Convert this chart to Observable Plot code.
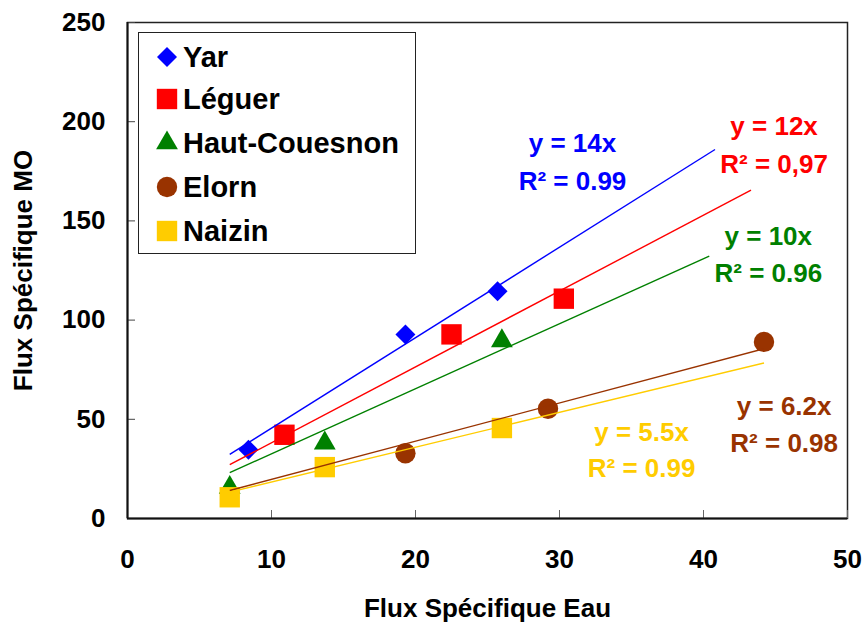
<!DOCTYPE html>
<html>
<head>
<meta charset="utf-8">
<script src="https://cdn.jsdelivr.net/npm/d3@7"></script>
<script src="https://cdn.jsdelivr.net/npm/@observablehq/plot@0.6"></script>
<style>
  body { margin: 0; background: #fff; }
  #wrap { position: relative; width: 864px; height: 626px; font-family: "Liberation Sans", Arial, sans-serif; }
  #wrap svg text { font-weight: bold; }
  #legend { position: absolute; left: 138px; top: 32px; width: 276px; height: 220px; border: 1.5px solid #222; background: #fff; }
  .row { position: absolute; left: 0; height: 40px; display: flex; align-items: center; }
  .row svg { width: 26px; height: 26px; margin-left: 15px; }
  .row span { position: absolute; left: 44px; font-size: 29px; font-weight: bold; color: #000; white-space: nowrap; line-height: 40px; }
</style>
</head>
<body>
<div id="wrap"></div>
<script>
// ---- data ----
const seriesNames = ["Yar", "Léguer", "Haut-Couesnon", "Elorn", "Naizin"];
const seriesColors = ["#0000FF", "#FF0000", "#008000", "#993300", "#FFCC00"];

const yarX = [8.4, 19.3, 25.7];
const yarY = [34.7, 92.7, 114.5];
const leguerX = [10.9, 22.5, 30.3];
const leguerY = [42.2, 92.8, 110.8];
const hautCouesnonX = [7.1, 13.7, 26.0];
const hautCouesnonY = [15.6, 38.0, 89.5];
const elornX = [19.3, 29.2, 44.2];
const elornY = [32.9, 55.3, 89.0];
const naizinX = [7.1, 13.7, 26.0];
const naizinY = [10.7, 25.9, 45.6];

// trend line end points
const trendX1 = [7.1, 7.1, 7.1, 7.1, 7.1];
const trendY1 = [32.3, 27.1, 23.1, 14.1, 13.3];
const trendX2 = [40.8, 43.3, 40.4, 44.2, 44.2];
const trendY2 = [186.0, 165.5, 132.3, 85.6, 78.4];

// equation labels
const eqText = ["y = 14x", "y = 12x", "y = 10x", "y = 6.2x", "y = 5.5x"];
const r2Text = ["R² = 0.99", "R² = 0,97", "R² = 0.96", "R² = 0.98", "R² = 0.99"];
const eqX = [30.9, 44.9, 44.5, 45.6, 35.7];
const eqY = [189.1, 197.4, 141.9, 56.2, 43.5];
const r2Y = [169.7, 178.1, 123.5, 37.7, 25.1];

const xTicks = [0, 10, 20, 30, 40, 50];
const yTicks = [0, 50, 100, 150, 200, 250];
const xTitle = "Flux Spécifique Eau";
const yTitle = "Flux Spécifique MO";

// ---- styles ----
const seriesX = [yarX, leguerX, hautCouesnonX, elornX, naizinX];
const seriesY = [yarY, leguerY, hautCouesnonY, elornY, naizinY];
const symbols = ["diamond2", "square", "triangle", "circle", "square"];
const radii = [9.0, 11.5, 8.1, 10.2, 11.5];
const d3Symbols = {diamond2: d3.symbolDiamond2, square: d3.symbolSquare, triangle: d3.symbolTriangle, circle: d3.symbolCircle};

const marks = [];
// markers
seriesNames.forEach((name, i) => {
  const pts = seriesX[i].map((x, j) => ({x, y: seriesY[i][j]}));
  marks.push(Plot.dot(pts, {x: "x", y: "y", symbol: symbols[i], r: radii[i], fill: seriesColors[i], stroke: "none"}));
});
// trend lines
seriesNames.forEach((name, i) => {
  marks.push(Plot.link([{x1: trendX1[i], y1: trendY1[i], x2: trendX2[i], y2: trendY2[i]}],
    {x1: "x1", y1: "y1", x2: "x2", y2: "y2", stroke: seriesColors[i], strokeWidth: 1.4}));
});
// equation labels
seriesNames.forEach((name, i) => {
  marks.push(Plot.text([{x: eqX[i], y: eqY[i], t: eqText[i]}, {x: eqX[i], y: r2Y[i], t: r2Text[i]}],
    {x: "x", y: "y", text: "t", fill: seriesColors[i], fontSize: 26, fontWeight: "bold", textAnchor: "middle"}));
});

const chart = Plot.plot({
  width: 864,
  height: 626,
  marginTop: 22,
  marginRight: 17,
  marginBottom: 108,
  marginLeft: 127,
  style: {fontFamily: "'Liberation Sans', Arial, sans-serif", background: "#fff", color: "#000"},
  x: {domain: [0, 50]},
  y: {domain: [0, 250]},
  marks: [
    Plot.frame({stroke: "#222", strokeWidth: 1.5}),
    Plot.axisX({ticks: xTicks, tickSize: -8, tickPadding: 39, stroke: "#666", fill: "#000", fontSize: 26, fontWeight: "bold", label: null, tickFormat: d => String(d)}),
    Plot.axisY({ticks: yTicks, tickSize: -8, tickPadding: 30, stroke: "#444", fill: "#000", fontSize: 26, fontWeight: "bold", label: null, tickFormat: d => String(d)}),
    Plot.ruleX([0], {stroke: "#111", strokeWidth: 2}),
    Plot.ruleY([0], {stroke: "#111", strokeWidth: 2}),
    ...marks,
    Plot.text([xTitle], {frameAnchor: "bottom", dy: 90, fontSize: 26, fontWeight: "bold", fill: "#000", lineAnchor: "middle", textAnchor: "middle"}),
    Plot.text([yTitle], {frameAnchor: "left", dx: -104, rotate: -90, fontSize: 26, fontWeight: "bold", fill: "#000", lineAnchor: "middle", textAnchor: "middle"})
  ]
});

const wrap = document.getElementById("wrap");
wrap.appendChild(chart);

// legend (HTML overlay inside the plot area)
const legend = document.createElement("div");
legend.id = "legend";
const rowCenters = [24, 66, 110, 154, 198];
seriesNames.forEach((name, i) => {
  const row = document.createElement("div");
  row.className = "row";
  row.style.top = (rowCenters[i] - 20) + "px";
  const size = Math.PI * radii[i] * radii[i];
  const path = d3.symbol().type(d3Symbols[symbols[i]]).size(size)();
  row.innerHTML = `<svg viewBox="-13 -13 26 26"><path d="${path}" fill="${seriesColors[i]}"></path></svg><span>${name}</span>`;
  legend.appendChild(row);
});
wrap.appendChild(legend);
</script>
</body>
</html>
